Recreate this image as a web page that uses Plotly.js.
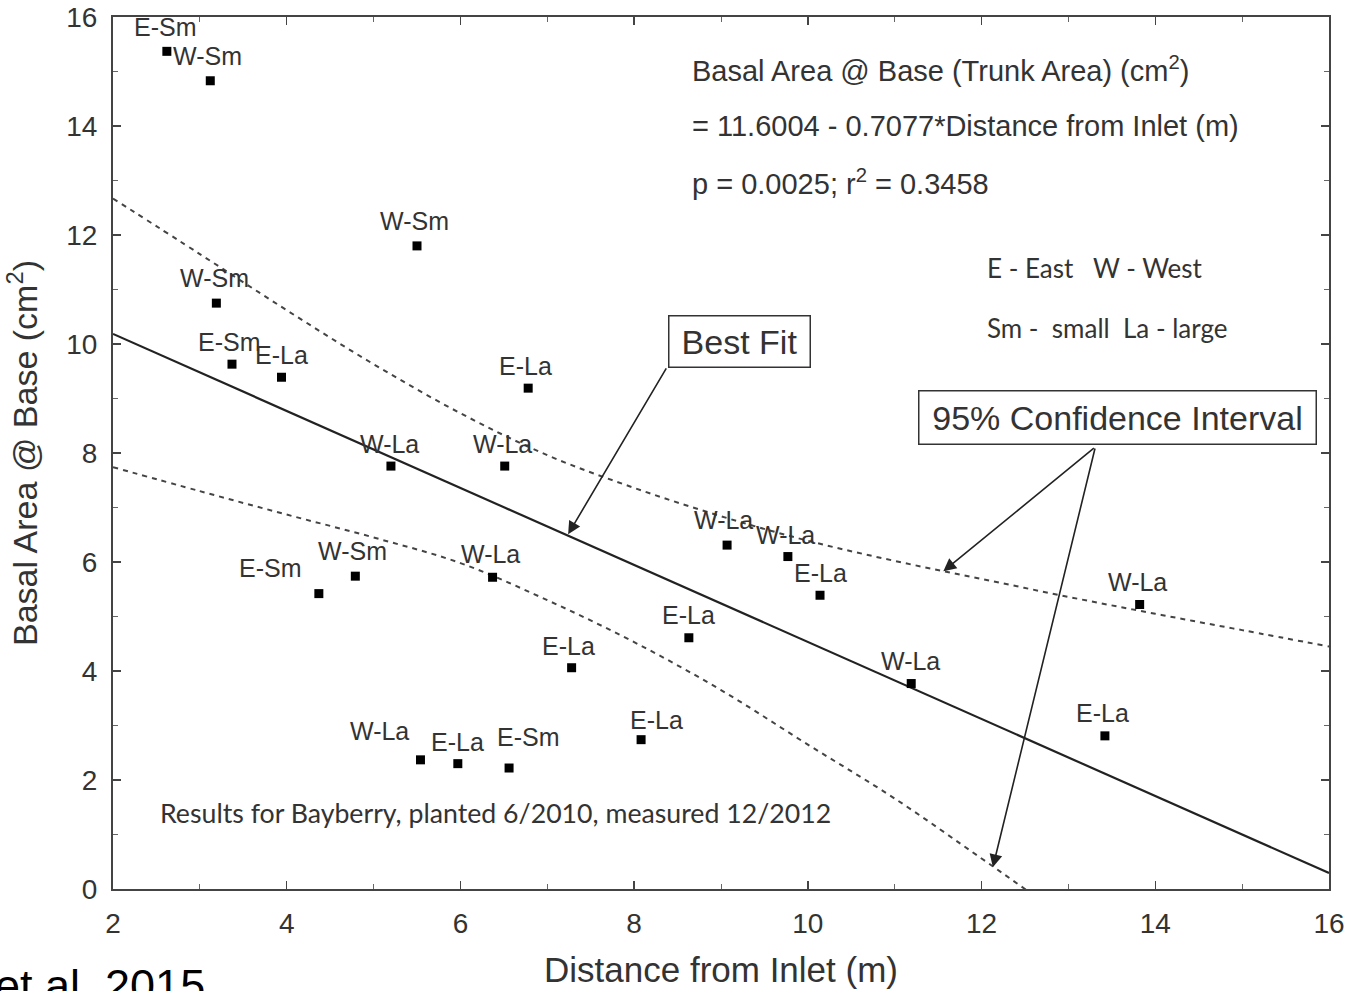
<!DOCTYPE html>
<html>
<head>
<meta charset="utf-8">
<script src="https://cdn.plot.ly/plotly-3.0.1.min.js"></script>
<style>
html, body { margin: 0; padding: 0; background: #fff; }
#chart { width: 1357px; height: 991px; }
</style>
</head>
<body>
<div id="chart"></div>
<script>
// ---- data ----
const distance = [2.62, 3.12, 5.50, 3.19, 3.37, 3.94, 6.78, 5.20, 6.51, 9.07, 9.77, 10.14,
                  13.82, 4.37, 4.79, 6.37, 8.63, 7.28, 11.19, 13.42, 8.08, 5.54, 5.97, 6.56];
const basalArea = [15.37, 14.83, 11.80, 10.75, 9.63, 9.39, 9.19, 7.76, 7.76, 6.31, 6.10, 5.39,
                   5.22, 5.42, 5.74, 5.72, 4.61, 4.06, 3.77, 2.81, 2.74, 2.37, 2.30, 2.22];
const pointLabels = ['E-Sm','W-Sm','W-Sm','W-Sm','E-Sm','E-La','E-La','W-La','W-La','W-La','W-La','E-La',
                     'W-La','E-Sm','W-Sm','W-La','E-La','E-La','W-La','E-La','E-La','W-La','E-La','E-Sm'];

const fitX = [2, 16];
const fitY = [10.185, 0.293];

const ciUpperX = [2, 3, 4, 5, 6, 7, 8, 9, 10, 11, 12, 13, 14, 15, 16];
const ciUpperY = [12.67, 11.65, 10.62, 9.63, 8.73, 7.96, 7.36, 6.84, 6.39, 6.02, 5.69, 5.36, 5.05, 4.75, 4.45];
const ciLowerX = [2, 3, 4, 5, 6, 7, 8, 9, 10, 11, 12, 12.5, 13];
const ciLowerY = [7.74, 7.30, 6.87, 6.45, 5.98, 5.30, 4.53, 3.65, 2.65, 1.66, 0.56, 0.0, -0.55];

const xTickVals = [2, 4, 6, 8, 10, 12, 14, 16];
const yTickVals = [0, 2, 4, 6, 8, 10, 12, 14, 16];

const xTitle = 'Distance from Inlet (m)';
const yTitle = 'Basal Area @ Base (cm<sup>2</sup>)';
const eqLines = ['Basal Area @ Base (Trunk Area) (cm<sup>2</sup>)',
                 '= 11.6004 - 0.7077*Distance from Inlet (m)',
                 'p = 0.0025; r<sup>2</sup> = 0.3458'];
const keyLines = ['E - East\u00A0\u00A0\u00A0W - West', 'Sm -\u00A0\u00A0small\u00A0\u00A0La - large'];
const noteText = 'Results for Bayberry, planted 6/2010, measured 12/2012';
const citeText = 'et al. 2015';
const bestFitText = 'Best Fit';
const ciText = '95% Confidence Interval';

// ---- styling / placement (not data) ----
const labelDX = [-1,-3,-3,-2,-2,0,-3,-1,-2,-4,-2,0,-2,-48,-3,-2,0,-3,-1,-2,15,-41,0,19];
const labelDY = [24,25,25,25,22,22,22,22,22,25,22,22,23,26,25,23,23,22,23,23,20,29,22,31];

const ARIAL = 'Liberation Sans, Arial, sans-serif';
const CALIBRI = 'Lato, Open Sans, sans-serif';
const INK = '#333333';

const traces = [
  { x: ciUpperX, y: ciUpperY, mode: 'lines', type: 'scatter', hoverinfo: 'skip',
    line: { color: '#444', width: 2, dash: '5px,5px', shape: 'spline', smoothing: 1 } },
  { x: ciLowerX, y: ciLowerY, mode: 'lines', type: 'scatter', hoverinfo: 'skip',
    line: { color: '#444', width: 2, dash: '5px,5px', shape: 'spline', smoothing: 1 } },
  { x: fitX, y: fitY, mode: 'lines', type: 'scatter',
    line: { color: '#222', width: 2.2 } },
  { x: distance, y: basalArea, mode: 'markers', type: 'scatter', text: pointLabels,
    marker: { symbol: 'square', size: 9, color: '#000' } }
];

const annotations = [];
distance.forEach((d, i) => {
  annotations.push({ x: d, y: basalArea[i], xref: 'x', yref: 'y', text: pointLabels[i],
    showarrow: false, xshift: labelDX[i], yshift: labelDY[i],
    font: { family: ARIAL, size: 25, color: INK } });
});

const eqY = [0.940, 0.875, 0.8106];
eqLines.forEach((t, i) => {
  annotations.push({ x: 0.4745, y: eqY[i], xref: 'paper', yref: 'paper', xanchor: 'left', yanchor: 'middle',
    text: t, showarrow: false, font: { family: ARIAL, size: 29, color: INK } });
});
const keyY = [0.7118, 0.643];
keyLines.forEach((t, i) => {
  annotations.push({ x: 0.7173, y: keyY[i], xref: 'paper', yref: 'paper', xanchor: 'left', yanchor: 'middle',
    text: t, showarrow: false, font: { family: CALIBRI, size: 26, color: INK } });
});
annotations.push({ x: 0.0366, y: 0.0873, xref: 'paper', yref: 'paper', xanchor: 'left', yanchor: 'middle',
  text: noteText, showarrow: false, font: { family: CALIBRI, size: 26.7, color: INK } });
annotations.push({ x: 0.0775, y: -0.079, xref: 'paper', yref: 'paper', xanchor: 'right', yanchor: 'top',
  text: citeText, showarrow: false, font: { family: ARIAL, size: 45, color: '#000' } });

// call-out boxes
annotations.push({ x: 9.21, y: 10.05, xref: 'x', yref: 'y', text: bestFitText, showarrow: false,
  font: { family: ARIAL, size: 34, color: INK }, bordercolor: '#333', borderwidth: 1.5, borderpad: 2,
  width: 136, height: 46, bgcolor: 'rgba(255,255,255,0)' });
annotations.push({ x: 13.56, y: 8.66, xref: 'x', yref: 'y', text: ciText, showarrow: false,
  font: { family: ARIAL, size: 34, color: INK }, bordercolor: '#333', borderwidth: 1.5, borderpad: 2,
  width: 392, height: 48, bgcolor: 'rgba(255,255,255,0)' });

// call-out arrows (head at x,y ; tail at ax,ay)
const arrows = [
  { x: 7.24, y: 6.51, ax: 8.38, ay: 9.58 },
  { x: 11.56, y: 5.83, ax: 13.31, ay: 8.11 },
  { x: 12.13, y: 0.40, ax: 13.31, ay: 8.11 }
];
arrows.forEach(a => {
  annotations.push({ x: a.x, y: a.y, ax: a.ax, ay: a.ay, xref: 'x', yref: 'y', axref: 'x', ayref: 'y',
    text: '', showarrow: true, arrowhead: 2, arrowsize: 1.6, arrowwidth: 1.6, arrowcolor: '#222', standoff: 0 });
});

const axisCommon = {
  showgrid: false, zeroline: false, showline: true, linecolor: '#444', linewidth: 2,
  mirror: 'allticks', ticks: 'inside', ticklen: 8, tickwidth: 1.5, tickcolor: '#444',
  tickfont: { family: ARIAL, size: 28, color: INK }
};

const layout = {
  width: 1357, height: 991,
  margin: { l: 113, r: 28, t: 17, b: 102 },
  paper_bgcolor: '#fff', plot_bgcolor: '#fff',
  showlegend: false,
  xaxis: Object.assign({}, axisCommon, {
    range: [2, 16], tickvals: xTickVals, ticklabelstandoff: 8,
    minor: { ticks: 'inside', tick0: 2, dtick: 1, ticklen: 5, tickwidth: 1, tickcolor: '#666' },
    title: { text: xTitle, font: { family: ARIAL, size: 35, color: INK }, standoff: 20 }
  }),
  yaxis: Object.assign({}, axisCommon, {
    range: [0, 16], tickvals: yTickVals, ticklabelstandoff: 8,
    minor: { ticks: 'inside', tick0: 0, dtick: 1, ticklen: 5, tickwidth: 1, tickcolor: '#666' },
    title: { text: yTitle, font: { family: ARIAL, size: 34, color: INK }, standoff: 18 }
  }),
  annotations: annotations
};

Plotly.newPlot('chart', traces, layout, { displayModeBar: false, staticPlot: true });
</script>
</body>
</html>
